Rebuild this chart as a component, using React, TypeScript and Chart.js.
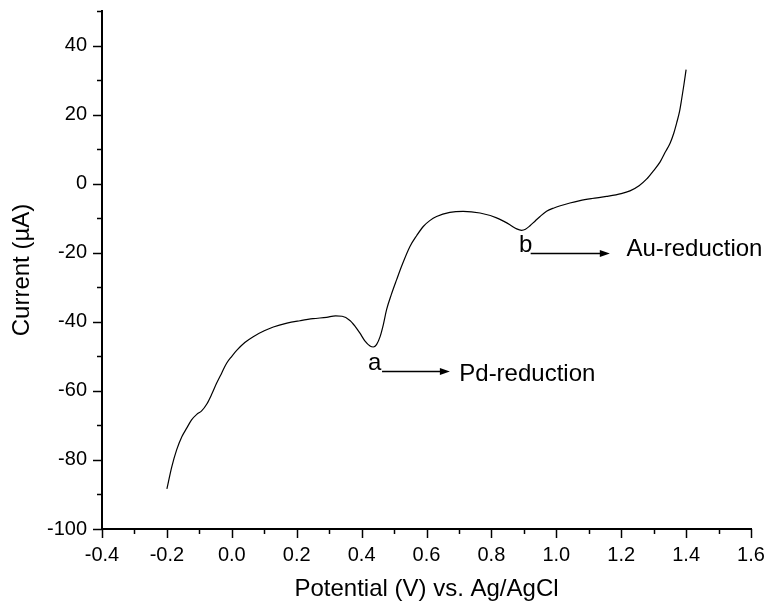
import React, { useEffect, useRef } from 'react';
import { Chart, registerables } from 'chart.js';

Chart.register(...registerables);

// ---- data ----
const potentials = [
  -0.200, -0.185, -0.170, -0.154, -0.139, -0.124, -0.108, -0.093, -0.077, -0.062,
  -0.047, -0.031, -0.016, 0.000, 0.015, 0.040, 0.066, 0.100, 0.128, 0.170,
  0.210, 0.250, 0.292, 0.320, 0.340, 0.364, 0.380, 0.395, 0.410, 0.426,
  0.436, 0.446, 0.457, 0.467, 0.477, 0.492, 0.508, 0.525, 0.549, 0.570,
  0.590, 0.610, 0.631, 0.672, 0.713, 0.765, 0.816, 0.840, 0.857, 0.878,
  0.893, 0.905, 0.919, 0.935, 0.950, 0.970, 0.991, 1.042, 1.073, 1.110,
  1.155, 1.200, 1.227, 1.255, 1.278, 1.300, 1.320, 1.335, 1.351, 1.362,
  1.371, 1.380, 1.386, 1.393, 1.400,
];
const currents = [
  -88.4, -82.0, -77.1, -73.3, -70.8, -68.4, -66.8, -65.8, -63.8, -61.0,
  -57.8, -54.8, -52.0, -50.0, -48.3, -46.0, -44.3, -42.6, -41.5, -40.4,
  -39.7, -39.1, -38.7, -38.3, -38.4, -39.6, -41.3, -43.3, -45.5, -47.0,
  -47.3, -46.6, -44.3, -40.8, -36.5, -32.0, -27.8, -23.5, -18.2, -15.0,
  -12.4, -10.7, -9.5, -8.3, -8.0, -8.5, -9.9, -11.0, -11.9, -13.1,
  -13.5, -13.2, -12.2, -10.8, -9.5, -8.0, -7.1, -5.6, -4.9, -4.3,
  -3.7, -2.9, -2.1, -0.6, 1.3, 3.8, 6.3, 9.0, 11.8, 14.6,
  17.6, 21.0, 24.3, 28.5, 33.0,
];

const xMin = -0.4;
const xMax = 1.6;
const yMin = -100;
const yMax = 50;
const xTitle = 'Potential (V) vs. Ag/AgCl';
const yTitle = 'Current (µA)';

// annotations
const peakLabels = ['a', 'b'];
const peakLabelX = [0.420, 0.885];
const peakLabelY = [-54.0, -19.8];
const arrowStartX = [0.463, 0.921];
const arrowEndX = [0.672, 1.165];
const arrowY = [-54.2, -20.2];
const peakTexts = ['Pd-reduction', 'Au-reduction'];
const peakTextX = [0.701, 1.216];
const peakTextY = [-57.0, -20.9];

const FONT = 'Arial, "Liberation Sans", sans-serif';

const isMajorX = (v: number) => Math.abs(Math.round(v * 10)) % 2 === 0;
const isMajorY = (v: number) => Math.round(v) % 20 === 0;

const tickPlugin = {
  id: 'customTicks',
  afterDraw(chart: any) {
    const ctx = chart.ctx;
    const xs = chart.scales.x;
    const ys = chart.scales.y;
    ctx.save();
    ctx.strokeStyle = '#000';
    ctx.lineWidth = 1.5;
    xs.ticks.forEach((t: any) => {
      const px = Math.round(xs.getPixelForValue(t.value)) + 0.5;
      const len = isMajorX(t.value) ? 9 : 5;
      ctx.beginPath();
      ctx.moveTo(px, xs.top);
      ctx.lineTo(px, xs.top + len);
      ctx.stroke();
    });
    ys.ticks.forEach((t: any) => {
      const py = Math.round(ys.getPixelForValue(t.value)) + 0.5;
      const len = isMajorY(t.value) ? 9 : 5;
      ctx.beginPath();
      ctx.moveTo(ys.right, py);
      ctx.lineTo(ys.right - len, py);
      ctx.stroke();
    });
    ctx.restore();
  },
};

const annotationPlugin = {
  id: 'peakAnnotations',
  afterDraw(chart: any) {
    const ctx = chart.ctx;
    const xs = chart.scales.x;
    const ys = chart.scales.y;
    ctx.save();
    ctx.fillStyle = '#000';
    ctx.strokeStyle = '#000';
    ctx.font = `24px ${FONT}`;
    ctx.textAlign = 'left';
    ctx.textBaseline = 'alphabetic';
    for (let i = 0; i < peakLabels.length; i++) {
      ctx.fillText(peakLabels[i], xs.getPixelForValue(peakLabelX[i]), ys.getPixelForValue(peakLabelY[i]));
      ctx.fillText(peakTexts[i], xs.getPixelForValue(peakTextX[i]), ys.getPixelForValue(peakTextY[i]));
      const x0 = xs.getPixelForValue(arrowStartX[i]);
      const x1 = xs.getPixelForValue(arrowEndX[i]);
      const y = Math.round(ys.getPixelForValue(arrowY[i])) + 0.5;
      ctx.lineWidth = 1.3;
      ctx.beginPath();
      ctx.moveTo(x0, y);
      ctx.lineTo(x1 - 8, y);
      ctx.stroke();
      ctx.beginPath();
      ctx.moveTo(x1, y);
      ctx.lineTo(x1 - 10, y - 3.5);
      ctx.lineTo(x1 - 10, y + 3.5);
      ctx.closePath();
      ctx.fill();
    }
    ctx.restore();
  },
};

export default function App() {
  const canvasRef = useRef<HTMLCanvasElement | null>(null);

  useEffect(() => {
    document.body.style.margin = '0';
    const canvas = canvasRef.current;
    if (!canvas) return;
    const points = potentials.map((x, i) => ({ x, y: currents[i] }));
    const chart = new Chart(canvas, {
      type: 'line',
      data: {
        datasets: [
          {
            data: points,
            borderColor: '#000',
            borderWidth: 1.2,
            pointRadius: 0,
            fill: false,
            cubicInterpolationMode: 'monotone',
          },
        ],
      },
      options: {
        animation: false,
        responsive: false,
        devicePixelRatio: 1,
        layout: { padding: { top: 11, right: 16, left: 0, bottom: 0 } },
        plugins: {
          legend: { display: false },
          tooltip: { enabled: false },
        },
        scales: {
          x: {
            type: 'linear',
            min: xMin,
            max: xMax,
            grid: { display: false, drawTicks: false },
            border: { display: true, color: '#000', width: 2 },
            ticks: {
              stepSize: 0.1,
              autoSkip: false,
              maxRotation: 0,
              padding: 14,
              color: '#000',
              font: { family: FONT, size: 20 },
              callback: (v: any) => (isMajorX(Number(v)) ? Number(v).toFixed(1) : ''),
            },
            title: {
              display: true,
              text: xTitle,
              color: '#000',
              font: { family: FONT, size: 24 },
              padding: { top: 0, bottom: 0 },
            },
            afterFit: (s: any) => {
              s.height = 75;
              s.paddingLeft = 0;
              s.paddingRight = 0;
              s.paddingTop = 0;
              s.paddingBottom = 0;
            },
          },
          y: {
            type: 'linear',
            min: yMin,
            max: yMax,
            grid: { display: false, drawTicks: false },
            border: { display: true, color: '#000', width: 2 },
            ticks: {
              stepSize: 10,
              autoSkip: false,
              padding: 15,
              color: '#000',
              font: { family: FONT, size: 20 },
              callback: (v: any) => (isMajorY(Number(v)) ? String(Math.round(Number(v))) : ''),
            },
            title: {
              display: true,
              text: yTitle,
              color: '#000',
              font: { family: FONT, size: 24 },
              padding: { top: 8, bottom: 0 },
            },
            afterFit: (s: any) => {
              s.width = 102;
              s.paddingLeft = 0;
              s.paddingRight = 0;
              s.paddingTop = 0;
              s.paddingBottom = 0;
            },
          },
        },
      },
      plugins: [tickPlugin, annotationPlugin],
    });
    return () => chart.destroy();
  }, []);

  return (
    <div style={{ width: 767, height: 604 }}>
      <canvas ref={canvasRef} width={767} height={604} />
    </div>
  );
}
